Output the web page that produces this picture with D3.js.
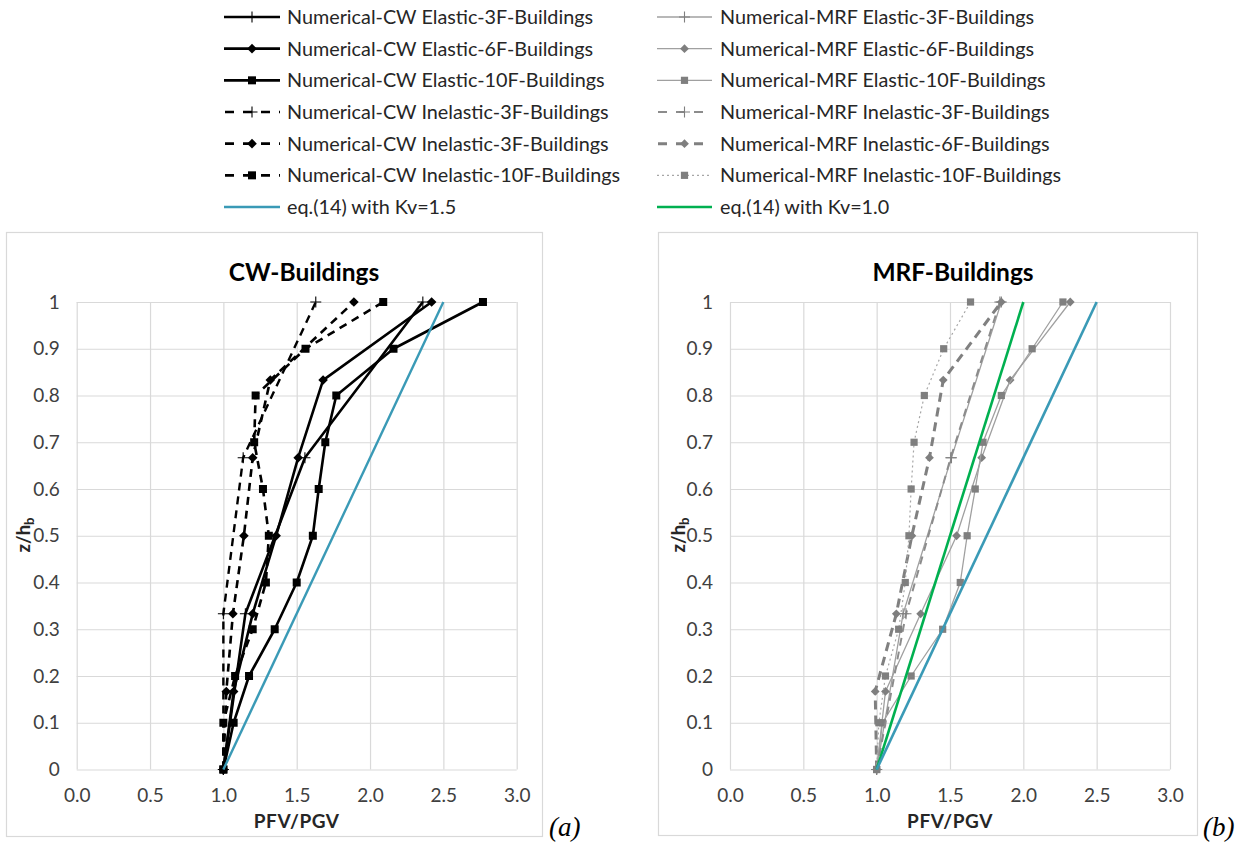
<!DOCTYPE html>
<html><head><meta charset="utf-8">
<script src="https://cdn.jsdelivr.net/npm/d3@7"></script>
<style>
html,body{margin:0;padding:0;background:#fff;}
svg{display:block;font-family:Lato,'Open Sans',sans-serif;}
</style></head>
<body>
<script>
// ---------- DATA ----------
const z3 = [0, 0.333, 0.667, 1];
const z6 = [0, 0.167, 0.333, 0.5, 0.667, 0.833, 1];
const z10 = [0, 0.1, 0.2, 0.3, 0.4, 0.5, 0.6, 0.7, 0.8, 0.9, 1];
const zEq = [0, 1];

const cwElastic3F    = [1.00, 1.15, 1.556, 2.36];
const cwElastic6F    = [1.00, 1.07, 1.20, 1.36, 1.51, 1.68, 2.42];
const cwElastic10F   = [1.00, 1.07, 1.175, 1.35, 1.50, 1.61, 1.65, 1.695, 1.77, 2.16, 2.77];
const cwInelastic3F  = [1.00, 1.00, 1.135, 1.63];
const cwInelastic6F  = [1.00, 1.02, 1.065, 1.14, 1.20, 1.32, 1.89];
const cwInelastic10F = [1.00, 1.00, 1.08, 1.20, 1.29, 1.31, 1.27, 1.21, 1.22, 1.56, 2.09];

const mrfElastic3F    = [1.00, 1.18, 1.51, 1.85];
const mrfElastic6F    = [1.00, 1.06, 1.30, 1.545, 1.716, 1.91, 2.32];
const mrfElastic10F   = [1.00, 1.04, 1.235, 1.45, 1.57, 1.617, 1.672, 1.725, 1.85, 2.06, 2.27];
const mrfInelastic3F  = [1.00, 1.20, 1.505, 1.84];
const mrfInelastic6F  = [1.00, 0.99, 1.134, 1.24, 1.36, 1.454, 1.85];
const mrfInelastic10F = [1.00, 1.015, 1.06, 1.15, 1.195, 1.22, 1.235, 1.255, 1.325, 1.457, 1.64];

const eqKv15 = [1.0, 2.5];
const eqKv10 = [1.0, 2.0];

const xTickValues = [0, 0.5, 1, 1.5, 2, 2.5, 3];
const xTickLabels = ["0.0", "0.5", "1.0", "1.5", "2.0", "2.5", "3.0"];
const yTickValues = [0, 0.1, 0.2, 0.3, 0.4, 0.5, 0.6, 0.7, 0.8, 0.9, 1];
const yTickLabels = ["0", "0.1", "0.2", "0.3", "0.4", "0.5", "0.6", "0.7", "0.8", "0.9", "1"];

const cwNames = ["Numerical-CW Elastic-3F-Buildings", "Numerical-CW Elastic-6F-Buildings",
  "Numerical-CW Elastic-10F-Buildings", "Numerical-CW Inelastic-3F-Buildings",
  "Numerical-CW Inelastic-3F-Buildings", "Numerical-CW Inelastic-10F-Buildings", "eq.(14) with Kv=1.5"];
const mrfNames = ["Numerical-MRF Elastic-3F-Buildings", "Numerical-MRF Elastic-6F-Buildings",
  "Numerical-MRF Elastic-10F-Buildings", "Numerical-MRF Inelastic-3F-Buildings",
  "Numerical-MRF Inelastic-6F-Buildings", "Numerical-MRF Inelastic-10F-Buildings", "eq.(14) with Kv=1.0"];

// ---------- STYLES ----------
const BLUE = "#3a9ab6", GREEN = "#00b050", GRID = "#d9d9d9";
const stCW = [
  {color:"#000", width:2.6, dash:null, marker:"plus", mcolor:"#000"},
  {color:"#000", width:2.6, dash:null, marker:"diamond", mcolor:"#000"},
  {color:"#000", width:2.6, dash:null, marker:"square", mcolor:"#000"},
  {color:"#000", width:2.4, dash:"8,6", marker:"plus", mcolor:"#000"},
  {color:"#000", width:2.6, dash:"8,6", marker:"diamond", mcolor:"#000"},
  {color:"#000", width:2.6, dash:"8,6", marker:"square", mcolor:"#000"},
  {color:BLUE, width:2.4, dash:null, marker:null}
];
const stMRF = [
  {color:"#a0a0a0", width:1.3, dash:null, marker:"plus", mcolor:"#7f7f7f"},
  {color:"#a0a0a0", width:1.3, dash:null, marker:"diamond", mcolor:"#7f7f7f"},
  {color:"#a0a0a0", width:1.3, dash:null, marker:"square", mcolor:"#7f7f7f"},
  {color:"#8c8c8c", width:2.0, dash:"8,6", marker:"plus", mcolor:"#7f7f7f"},
  {color:"#808080", width:3.0, dash:"9,6", marker:"diamond", mcolor:"#7f7f7f"},
  {color:"#a6a6a6", width:1.2, dash:"2,3", marker:"square", mcolor:"#7f7f7f"},
  {color:GREEN, width:2.6, dash:null, marker:null}
];

const svg = d3.select("body").append("svg").attr("width", 1247).attr("height", 847);

function drawMarker(g, type, cx, cy, color, big) {
  const s = big ? 4 : 3.6;
  if (type === "square") {
    g.append("rect").attr("x", cx - s).attr("y", cy - s).attr("width", 2*s).attr("height", 2*s).attr("fill", color);
  } else if (type === "diamond") {
    const d = s + 0.8;
    g.append("path").attr("d", `M${cx},${cy-d}L${cx+d},${cy}L${cx},${cy+d}L${cx-d},${cy}Z`).attr("fill", color);
  } else if (type === "plus") {
    g.append("path").attr("d", `M${cx-5.5},${cy}H${cx+5.5}M${cx},${cy-5.5}V${cy+5.5}`)
      .attr("stroke", color).attr("stroke-width", 1.1).attr("fill", "none");
  }
}

function drawPanel(opt) {
  const g = svg.append("g");
  g.append("rect").attr("x", opt.box[0]+0.5).attr("y", opt.box[1]+0.5)
    .attr("width", opt.box[2]-opt.box[0]).attr("height", opt.box[3]-opt.box[1])
    .attr("fill", "#fff").attr("stroke", GRID).attr("stroke-width", 1.2);
  const x = d3.scaleLinear().domain([0, 3]).range([opt.x0, opt.x1]);
  const y = d3.scaleLinear().domain([0, 1]).range([769.5, 302]);
  const xAx = g.append("g").attr("transform", `translate(0,${y(0)})`)
    .call(d3.axisBottom(x).tickValues(xTickValues).tickSize(-(y(0)-y(1))).tickPadding(19)
      .tickFormat((d, i) => xTickLabels[i]));
  const yAx = g.append("g").attr("transform", `translate(${x(0)},0)`)
    .call(d3.axisLeft(y).tickValues(yTickValues).tickSize(-(x(3)-x(0))).tickPadding(17)
      .tickFormat((d, i) => yTickLabels[i]));
  [xAx, yAx].forEach(a => {
    a.select(".domain").remove();
    a.selectAll("line").attr("stroke", GRID).attr("stroke-width", 1.2);
    a.selectAll("text").attr("font-size", 19).attr("fill", "#404040").attr("font-family", "Lato,'Open Sans',sans-serif");
  });
  const line = d3.line().x(d => x(d[0])).y(d => y(d[1]));
  opt.series.forEach((s, i) => {
    const st = opt.styles[i];
    const pts = s.v.map((v, k) => [v, s.z[k]]);
    const p = g.append("path").datum(pts).attr("d", line).attr("fill", "none")
      .attr("stroke", st.color).attr("stroke-width", st.width).attr("stroke-linejoin", "round");
    if (st.dash) p.attr("stroke-dasharray", st.dash);
    if (st.marker) pts.forEach(d => drawMarker(g, st.marker, x(d[0]), y(d[1]), st.mcolor, opt.big));
  });
  g.append("text").attr("x", opt.titleX).attr("y", 272).attr("dy", "0.35em").attr("text-anchor", "middle")
    .attr("font-size", 24.5).attr("font-weight", "bold").attr("fill", "#000").text(opt.title);
  g.append("text").attr("x", (opt.x0+opt.x1)/2).attr("y", 821).attr("dy", "0.35em").attr("text-anchor", "middle")
    .attr("font-size", 19).attr("letter-spacing", 0.6).attr("font-weight", "bold").attr("fill", "#262626").text("PFV/PGV");
  const yl = g.append("text").attr("transform", `translate(${opt.ylabX},535) rotate(-90)`).attr("dy", "0.35em")
    .attr("text-anchor", "middle").attr("font-size", 18.5).attr("font-weight", "bold").attr("fill", "#262626");
  yl.append("tspan").text("z/h");
  yl.append("tspan").attr("font-size", 13).attr("dy", "0.3em").text("b");
  svg.append("text").attr("x", opt.tagX).attr("y", 836).attr("font-family", "'Liberation Serif',serif")
    .attr("font-style", "italic").attr("font-size", 27).attr("fill", "#000").text(opt.tag);
}

function drawLegend(names, styles, lx0, lx1, tx, big) {
  const rowY = d3.scaleLinear().domain([0, 6]).range([17, 207]);
  names.forEach((n, i) => {
    const st = styles[i], yy = rowY(i);
    const p = svg.append("path").attr("d", `M${lx0},${yy}H${lx1}`).attr("stroke", st.color)
      .attr("stroke-width", st.width).attr("fill", "none");
    if (st.dash) p.attr("stroke-dasharray", st.dash === "2,3" ? "2,3" : "9,9").attr("stroke-dashoffset", st.dash === "2,3" ? 0 : -1);
    if (st.marker) drawMarker(svg, st.marker, (lx0+lx1)/2, yy, st.mcolor, big);
    svg.append("text").attr("x", tx).attr("y", yy).attr("dy", "0.35em").attr("font-size", 19.8)
      .attr("fill", "#262626").text(n);
  });
}

drawPanel({
  box: [6, 232, 542, 836], x0: 76.7, x1: 516.7, title: "CW-Buildings", titleX: 304, ylabX: 24,
  tag: "(a)", tagX: 549, big: true,
  series: [
    {z: z3, v: cwElastic3F}, {z: z6, v: cwElastic6F}, {z: z10, v: cwElastic10F},
    {z: z3, v: cwInelastic3F}, {z: z6, v: cwInelastic6F}, {z: z10, v: cwInelastic10F},
    {z: zEq, v: eqKv15}
  ],
  styles: stCW
});
drawPanel({
  box: [658, 232, 1197, 835], x0: 730, x1: 1170, title: "MRF-Buildings", titleX: 953, ylabX: 679,
  tag: "(b)", tagX: 1203, big: false,
  series: [
    {z: z3, v: mrfElastic3F}, {z: z6, v: mrfElastic6F}, {z: z10, v: mrfElastic10F},
    {z: z3, v: mrfInelastic3F}, {z: z6, v: mrfInelastic6F}, {z: z10, v: mrfInelastic10F},
    {z: zEq, v: eqKv10}, {z: zEq, v: eqKv15}
  ],
  styles: stMRF.concat([{color: BLUE, width: 2.6, dash: null, marker: null}])
});
drawLegend(cwNames, stCW, 224, 280, 287, true);
drawLegend(mrfNames, stMRF, 657, 712, 720, false);
</script>
</body></html>
